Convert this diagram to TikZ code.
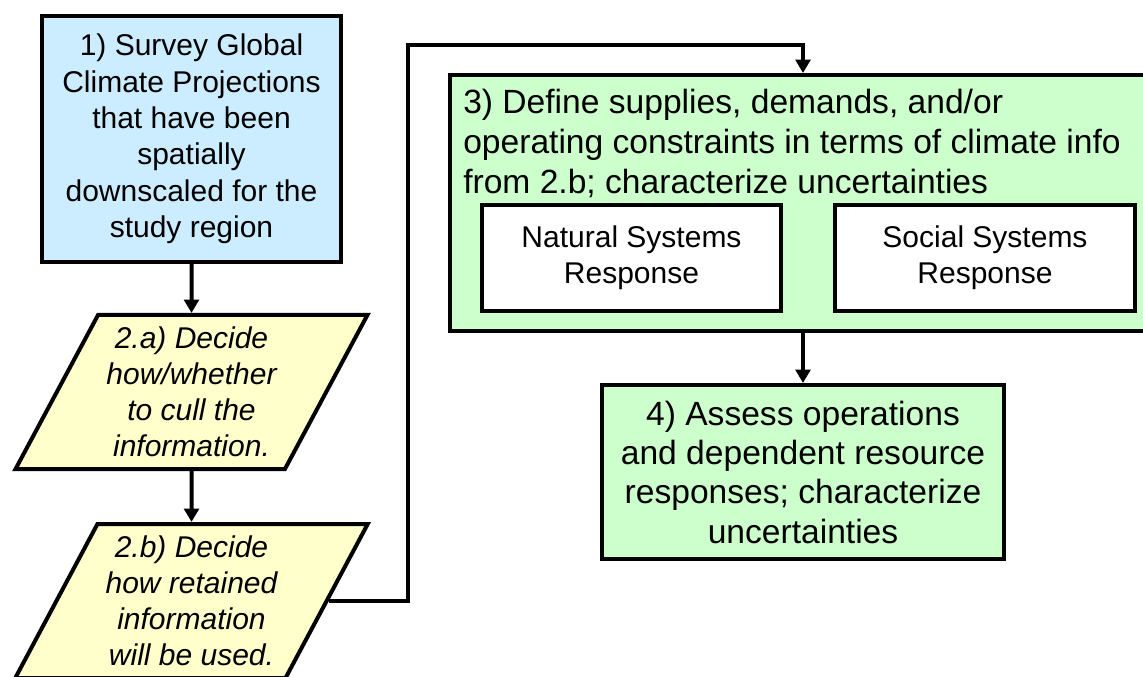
\documentclass[tikz,border=0pt]{standalone}
\usepackage{fontspec}
\setmainfont{Liberation Sans}
\usetikzlibrary{shapes.geometric,arrows.meta}
\definecolor{bleuclair}{RGB}{204,236,255}
\definecolor{jauneclair}{RGB}{255,255,204}
\definecolor{vertclair}{RGB}{204,255,204}

\begin{document}
\begin{tikzpicture}[x=0.75pt,y=-0.75pt,
	boite/.style={draw=black,line width=3pt,rectangle,align=center,inner sep=0pt},
	para/.style={draw=black,line width=3pt,trapezium,trapezium left angle=60,trapezium right angle=120,
		trapezium stretches=true,minimum width=264.75pt,minimum height=115.5pt,
		fill=jauneclair,align=center,inner sep=0pt,font=\fontsize{22.5}{27}\selectfont\itshape},
	fleche/.style={line width=3pt,-{Triangle[length=10pt,width=11pt]}}]
	%cadre
	\useasboundingbox (0,0) rectangle (1143,677);
	\clip (0,0) rectangle (1143,677);
	%ETAPE 1
	\node[boite,fill=bleuclair,minimum width=224.25pt,minimum height=184.5pt,
		font=\fontsize{22.5}{27.3}\selectfont] (s1) at (191.5,139)
		{1) Survey Global\\Climate Projections\\that have been\\spatially\\downscaled for the\\study region};
	%ETAPES 2.a, 2.b
	\node[para] (s2a) at (191.5,392) {2.a) Decide\\how/whether\\to cull the\\information.};
	\node[para] (s2b) at (191.5,601) {2.b) Decide\\how retained\\information\\will be used.};
	%ETAPE 3
	\node[boite,fill=vertclair,minimum width=529.5pt,minimum height=192pt] (s3) at (803,203) {};
	\node[anchor=west,align=left,inner sep=0pt,font=\fontsize{25.2}{30}\selectfont] (s3txt) at (463,143)
		{3) Define supplies, demands, and/or\\operating constraints in terms of climate info\\from 2.b; characterize uncertainties};
	\node[boite,fill=white,minimum width=224.25pt,minimum height=79.5pt,
		font=\fontsize{22.5}{27}\selectfont] (nat) at (631.5,258) {Natural Systems\\Response};
	\node[boite,fill=white,minimum width=225pt,minimum height=79.5pt,
		font=\fontsize{22.5}{27}\selectfont] (soc) at (985,258) {Social Systems\\Response};
	%ETAPE 4
	\node[boite,fill=vertclair,minimum width=301.5pt,minimum height=130.5pt,
		font=\fontsize{25.2}{29.5}\selectfont] (s4) at (803,472)
		{4) Assess operations\\and dependent resource\\responses; characterize\\uncertainties};
	%fleches
	\coordinate (coin) at (408,45);
	\draw[fleche] (s1) -- (s2a);
	\draw[fleche] (s2a) -- (s2b);
	\draw[fleche] (s2b.east) -| (coin) -| (s3.north);
	\draw[fleche] (s3.south) -- (s4.north);
\end{tikzpicture}
\end{document}
